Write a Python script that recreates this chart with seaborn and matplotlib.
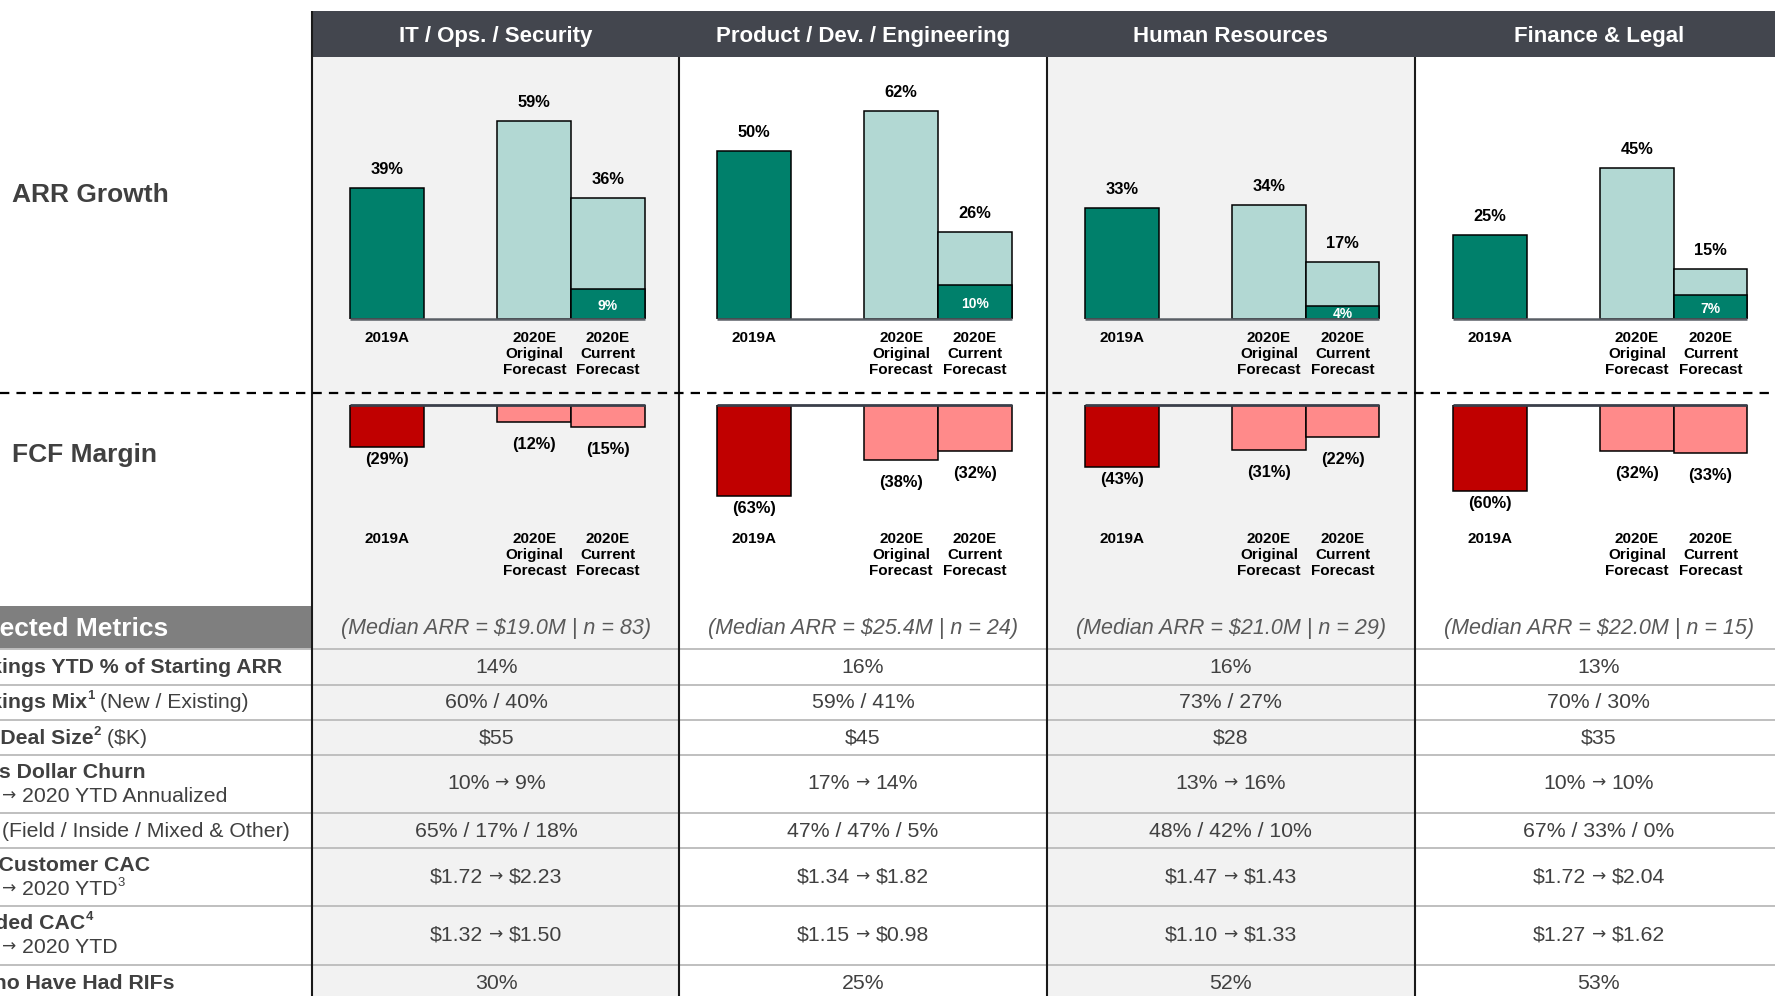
import matplotlib
matplotlib.use("Agg")
import matplotlib.pyplot as plt
import matplotlib.transforms as mtransforms
from matplotlib.patches import Rectangle
import pandas as pd
import seaborn as sns

sns.set_theme(style="white")
plt.rcParams["font.family"] = ["Liberation Sans", "DejaVu Sans"]

# ---------------------------------------------------------------- data
segments = ["IT / Ops. / Security", "Product / Dev. / Engineering",
            "Human Resources", "Finance & Legal"]
periods = ["2019A", "2020E\nOriginal\nForecast", "2020E\nCurrent\nForecast"]

arr_2019 = [39, 50, 33, 25]
arr_original = [59, 62, 34, 45]
arr_current = [36, 26, 17, 15]
arr_ytd = [9, 10, 4, 7]

fcf_2019 = [-29, -63, -43, -60]
fcf_original = [-12, -38, -31, -32]
fcf_current = [-15, -32, -22, -33]

median_arr = [19.0, 25.4, 21.0, 22.0]
n_companies = [83, 24, 29, 15]

bookings_ytd = ["14%", "16%", "16%", "13%"]
bookings_mix = ["60% / 40%", "59% / 41%", "73% / 27%", "70% / 30%"]
deal_size = ["$55", "$45", "$28", "$35"]
dollar_churn = ["10% → 9%", "17% → 14%", "13% → 16%", "10% → 10%"]
sales_model = ["65% / 17% / 18%", "47% / 47% / 5%", "48% / 42% / 10%", "67% / 33% / 0%"]
new_cac = ["$1.72 → $2.23", "$1.34 → $1.82", "$1.47 → $1.43", "$1.72 → $2.04"]
blended_cac = ["$1.32 → $1.50", "$1.15 → $0.98", "$1.10 → $1.33", "$1.27 → $1.62"]
rif_share = ["30%", "25%", "52%", "53%"]

# ---------------------------------------------------------------- style
DARK_GREEN = "#00806B"
LIGHT_TEAL = "#B2D8D3"
DARK_RED = "#C00000"
PINK = "#FF8A8A"
HEADER = "#43464E"
PANEL_GRAY = "#F2F2F2"
TEXT_GRAY = "#404040"
RULE_GRAY = "#BFBFBF"

W, H, DPI = 1775, 996, 100
panel_left = [312.4, 679.2, 1047.1, 1415.0]
panel_w = 367.5
bar_unit = 73.6
first_center = 74.7
ARR_TOP, ARR_BASE, ARR_PX = 57.0, 319.0, 3.36
FCF_BASE, FCF_DEPTH, FCF_PX = 405.0, 130.0, 1.44
PT = 72.0 / DPI  # points per pixel
TABLE_FS = 15.3
ARROW_GAP = 5.5

order = [periods[0], " ", periods[1], periods[2]]

fig = plt.figure(figsize=(W / DPI, H / DPI), dpi=DPI)
fig.patch.set_facecolor("white")
bg = fig.add_axes([0, 0, 1, 1])
bg.set_xlim(0, W)
bg.set_ylim(H, 0)
bg.axis("off")
renderer = fig.canvas.get_renderer()

# shaded columns, header band, metrics header cell
for i in (0, 2):
    bg.add_patch(Rectangle((panel_left[i], ARR_TOP), panel_w, H - ARR_TOP,
                           color=PANEL_GRAY, lw=0, zorder=0))
bg.add_patch(Rectangle((panel_left[0], 11), W - panel_left[0], 46, color=HEADER, lw=0, zorder=1))
bg.add_patch(Rectangle((0, 605.6), panel_left[0], 43, color="#7F7F7F", lw=0, zorder=1))

for i, name in enumerate(segments):
    bg.text(panel_left[i] + panel_w / 2, 36.5, name, color="white", fontsize=16,
            fontweight="bold", ha="center", va="center", zorder=3)

# table rules and column borders
bg.hlines([648.6, 684.9, 720.0, 755.0, 812.8, 848.0, 905.6, 964.5], 0, W,
          colors=RULE_GRAY, lw=1.4, zorder=2)
bg.vlines(panel_left[0], 11, H, colors="#1A1A1A", lw=1.5, zorder=3)
bg.vlines(panel_left[1:], ARR_TOP, H, colors="#1A1A1A", lw=1.5, zorder=3)
bg.hlines(393, 0, W, colors="black", lw=1.6, linestyles=(0, (4.2, 3.2)), zorder=4)

# section titles
bg.text(12.5, 195, "ARR Growth", color=TEXT_GRAY, fontsize=19, fontweight="bold",
        ha="left", va="center")
bg.text(12.5, 455, "FCF Margin", color=TEXT_GRAY, fontsize=19, fontweight="bold",
        ha="left", va="center")
bg.text(-40, 629, "Selected Metrics", color="white", fontsize=19, fontweight="bold",
        ha="left", va="center", zorder=3)


def width_of(t):
    return t.get_window_extent(renderer).width


def make_piece(y, text, kind, size, color):
    """One text piece: 'bold', 'normal', 'sup', 'supbold' or 'arrow'."""
    if kind == "arrow":
        return bg.text(0, y - 0.5, "→", fontsize=size * 0.8, color=color,
                       family="DejaVu Sans", ha="left", va="center", zorder=3)
    if kind.startswith("sup"):
        return bg.text(0, y - 6.5, text, fontsize=size * 0.62, color=color,
                       fontweight="bold" if kind == "supbold" else "normal",
                       ha="left", va="center", parse_math=False, zorder=3)
    return bg.text(0, y, text, fontsize=size, fontweight=kind, color=color,
                   ha="left", va="center", parse_math=False, zorder=3)


def lay_out(pieces, kinds, x):
    widths = [width_of(p) for p in pieces]
    for k, (p, w) in enumerate(zip(pieces, widths)):
        if kinds[k] == "arrow" or (k > 0 and kinds[k - 1] == "arrow"):
            x += ARROW_GAP
        p.set_x(x)
        x += w
    return x


def draw_runs(x, y, runs, size=TABLE_FS, color=TEXT_GRAY):
    """Left-aligned line of text made of bold / regular / superscript pieces."""
    pieces = [make_piece(y, text, kind, size, color) for text, kind in runs]
    lay_out(pieces, [k for _, k in runs], x)


def draw_value(cx, y, s, size=TABLE_FS, color=TEXT_GRAY):
    """Centered table value; arrows are set as a separate glyph."""
    runs = []
    for k, part in enumerate(s.split("→")):
        if k > 0:
            runs.append(("→", "arrow"))
        runs.append((part.strip(), "normal"))
    kinds = [k for _, k in runs]
    pieces = [make_piece(y, text, kind, size, color) for text, kind in runs]
    total = lay_out(pieces, kinds, 0.0)
    for p in pieces:
        p.set_x(p.get_position()[0] + cx - total / 2)


LABEL_X = -51
row_labels = [
    [(667, [("Bookings YTD % of Starting ARR", "bold")])],
    [(702, [("Bookings Mix", "bold"), ("1", "supbold"), (" (New / Existing)", "normal")])],
    [(738, [("Avg. Deal Size", "bold"), ("2", "supbold"), (" ($K)", "normal")])],
    [(772, [("Gross Dollar Churn", "bold")]),
     (796, [("2019", "normal"), ("→", "arrow"), ("2020 YTD Annualized", "normal")])],
    [(831, [("GTM", "bold"), (" (Field / Inside / Mixed & Other)", "normal")])],
    [(865, [("New Customer CAC", "bold")]),
     (889, [("2019", "normal"), ("→", "arrow"), ("2020 YTD", "normal"), ("3", "sup")])],
    [(923, [("Blended CAC", "bold"), ("4", "supbold")]),
     (947, [("2019", "normal"), ("→", "arrow"), ("2020 YTD", "normal")])],
    [(983, [("% Who Have Had RIFs", "bold")])],
]
for lines in row_labels:
    for y, runs in lines:
        draw_runs(LABEL_X, y, runs)

row_values = [bookings_ytd, bookings_mix, deal_size, dollar_churn,
              sales_model, new_cac, blended_cac, rif_share]
row_center = [667, 702, 738, 783, 831, 877, 935, 983]

for i in range(len(segments)):
    cx = panel_left[i] + panel_w / 2
    bg.text(cx, 628, f"(Median ARR = ${median_arr[i]:.1f}M | n = {n_companies[i]})",
            color="#595959", fontsize=15.5, style="italic", ha="center", va="center",
            parse_math=False, zorder=3)
    for vals, y in zip(row_values, row_center):
        draw_value(cx, y, vals[i])

# ---------------------------------------------------------------- bar panels
xlim = (-first_center / bar_unit, (panel_w - first_center) / bar_unit)
arr_palette = {periods[0]: DARK_GREEN, periods[1]: LIGHT_TEAL, periods[2]: LIGHT_TEAL}
fcf_palette = {periods[0]: DARK_RED, periods[1]: PINK, periods[2]: PINK}
bar_kw = dict(width=1.0, edgecolor="black", linewidth=1.1, saturation=1,
              legend=False, order=order)
CAT_FS = 11

for i in range(len(segments)):
    left = panel_left[i]

    # ARR growth
    ax = fig.add_axes([left / W, 1 - ARR_BASE / H, panel_w / W, (ARR_BASE - ARR_TOP) / H])
    ax.set_facecolor("none")
    df_arr = pd.DataFrame({"period": periods,
                           "value": [arr_2019[i], arr_original[i], arr_current[i]]})
    sns.barplot(data=df_arr, x="period", y="value", hue="period", hue_order=periods,
                palette=arr_palette, ax=ax, **bar_kw)
    df_ytd = pd.DataFrame({"period": [periods[2]], "value": [arr_ytd[i]]})
    sns.barplot(data=df_ytd, x="period", y="value", color=DARK_GREEN, ax=ax,
                **{k: v for k, v in bar_kw.items() if k != "legend"})
    ax.set_xlim(*xlim)
    ax.set_ylim(0, (ARR_BASE - ARR_TOP) / ARR_PX)
    ax.axis("off")
    ax.plot([-0.5, 3.5], [0, 0], color="#5A5F66", lw=1.8, zorder=5, clip_on=False,
            solid_capstyle="butt")

    xs = [order.index(p) for p in periods]
    for x, v in zip(xs, df_arr["value"]):
        ax.annotate(f"{v}%", (x, v), xytext=(0, 18.5 * PT), textcoords="offset points",
                    ha="center", va="center", fontsize=11.8, fontweight="bold",
                    color="black", annotation_clip=False)
    seg = ax.containers[-1][0]
    t = ax.annotate(f"{arr_ytd[i]}%", (xs[2], arr_ytd[i] / 2), xytext=(0, -2 * PT),
                    textcoords="offset points", ha="center", va="center",
                    fontsize=10, fontweight="bold", color="white", zorder=6)
    t.set_clip_path(seg)

    tr = mtransforms.blended_transform_factory(ax.transData, bg.transData)
    for x, p in zip(xs, periods):
        ax.text(x, 331, p, transform=tr, ha="center", va="top", fontsize=CAT_FS,
                fontweight="bold", color="black", linespacing=1.2, clip_on=False)

    # FCF margin
    ax2 = fig.add_axes([left / W, 1 - (FCF_BASE + FCF_DEPTH) / H, panel_w / W, FCF_DEPTH / H])
    ax2.set_facecolor("none")
    df_fcf = pd.DataFrame({"period": periods,
                           "value": [fcf_2019[i], fcf_original[i], fcf_current[i]]})
    sns.barplot(data=df_fcf, x="period", y="value", hue="period", hue_order=periods,
                palette=fcf_palette, ax=ax2, **bar_kw)
    ax2.set_xlim(*xlim)
    ax2.set_ylim(-FCF_DEPTH / FCF_PX, 0)
    ax2.axis("off")
    ax2.plot([-0.5, 3.5], [0, 0], color="#3A3F4A", lw=2.0, zorder=5, clip_on=False,
             solid_capstyle="butt")
    gaps = [12.5, 22.5, 22.5]
    for x, v, g in zip(xs, df_fcf["value"], gaps):
        ax2.annotate(f"({abs(v)}%)", (x, v), xytext=(0, -g * PT), textcoords="offset points",
                     ha="center", va="center", fontsize=11.8, fontweight="bold",
                     color="black", annotation_clip=False)
    tr2 = mtransforms.blended_transform_factory(ax2.transData, bg.transData)
    for x, p in zip(xs, periods):
        ax2.text(x, 532, p, transform=tr2, ha="center", va="top", fontsize=CAT_FS,
                 fontweight="bold", color="black", linespacing=1.2, clip_on=False)

fig.savefig("out.png", dpi=DPI, facecolor="white")
